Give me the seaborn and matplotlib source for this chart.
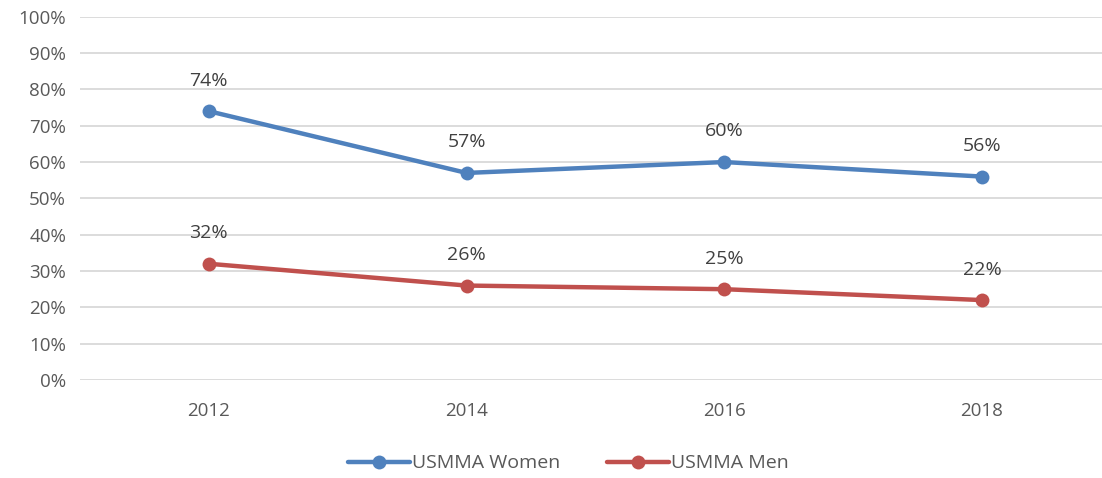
import pandas as pd
import seaborn as sns
import matplotlib.pyplot as plt
from matplotlib.ticker import PercentFormatter

# Chart values
years = ['2012', '2014', '2016', '2018']
women = [74, 57, 60, 56]
men = [32, 26, 25, 22]
series_names = ['USMMA Women', 'USMMA Men']
colors = ['#4F81BD', '#C0504D']

df = pd.DataFrame({
    'year': years * 2,
    'pct': women + men,
    'series': [series_names[0]] * len(years) + [series_names[1]] * len(years),
})

sns.set_style('white')
plt.rcParams['font.family'] = ['Open Sans', 'DejaVu Sans']

fig = plt.figure(figsize=(11.02, 4.78), dpi=100)
ax = fig.add_axes([0.0726, 0.205, 0.9355, 0.760])

sns.lineplot(data=df, x='year', y='pct', hue='series', palette=colors,
             marker='o', markersize=10, markeredgewidth=0, linewidth=3.2,
             sort=False, ax=ax, legend=True)

# Data labels above each point
for vals, name in zip([women, men], series_names):
    for i, v in enumerate(vals):
        ax.annotate(f'{v}%', (i, v), xytext=(0, 22), textcoords='offset points',
                    ha='center', va='center', fontsize=14, color='#404040')

ax.set_ylim(0, 100)
ax.set_xlim(-0.5, 3.5)
ax.set_yticks(range(0, 101, 10))
ax.yaxis.set_major_formatter(PercentFormatter(decimals=0))
ax.grid(axis='y', color='#D9D9D9', linewidth=1.3)
ax.set_axisbelow(True)
for s in ax.spines.values():
    s.set_visible(False)
ax.tick_params(axis='both', length=0, labelsize=13.5, labelcolor='#595959')
ax.tick_params(axis='x', pad=16)
ax.tick_params(axis='y', pad=10)
ax.set_xlabel('')
ax.set_ylabel('')

handles, labels = ax.get_legend_handles_labels()
ax.legend_.remove()
fig.legend(handles, labels, loc='lower center', bbox_to_anchor=(0.516, -0.025),
           ncol=2, frameon=False, fontsize=14, labelcolor='#595959',
           handlelength=3.2, handletextpad=0.1, columnspacing=2.4)

fig.savefig('out.png', dpi=100)
